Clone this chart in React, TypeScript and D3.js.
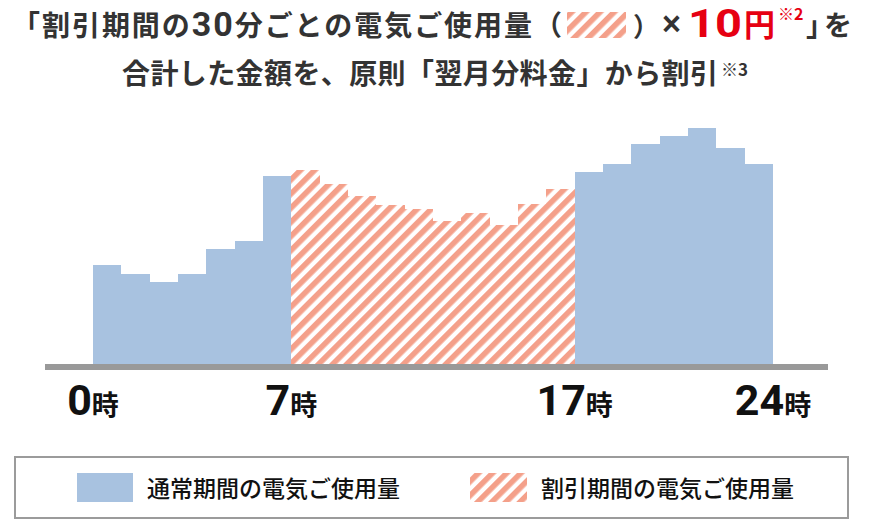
import * as d3 from "d3"

// hourly usage (Wh)
const hours = [0, 1, 2, 3, 4, 5, 6, 7, 8, 9, 10, 11, 12, 13, 14, 15, 16, 17, 18, 19, 20, 21, 22, 23]
const usage = [247, 226, 206, 226, 287, 308, 470, 485, 449, 420, 398, 388, 358, 378, 348, 399, 438, 479, 499, 549, 570, 590, 539, 499]
const discountFrom = 7
const discountTo = 17
const tickHours = [0, 7, 17, 24]
const legendLabels = ["通常期間の電気ご使用量", "割引期間の電気ご使用量"]

const BLUE = "#a8c2e0"
const SALMON = "#f4a08a"
const JP = "'Noto Sans CJK JP', 'Noto Sans', sans-serif"
const NUM = "Roboto, 'Liberation Sans', sans-serif"

const App = () => {
  const x = d3.scaleLinear().domain([0, 24]).range([93, 773])
  const y = d3.scaleLinear().domain([0, 1000]).range([364, -36])

  const isDiscount = (h: number) => h >= discountFrom && h < discountTo

  return (
    <svg
      width={872}
      height={520}
      style={{ position: "absolute", left: 0, top: 0, background: "#fff" }}
    >
      <defs>
        <pattern
          id="hatch"
          patternUnits="userSpaceOnUse"
          width={10}
          height={10}
          patternTransform="rotate(45)"
        >
          <rect width={10} height={10} fill="#fff" />
          <rect width={5.6} height={10} fill={SALMON} />
        </pattern>
      </defs>

      {/* title line 1 */}
      <g fontFamily={JP} fontWeight={700} fill="#333">
        <text x={12} y={36} fontSize={28} textLength={550}>
          「割引期間の
          <tspan fontFamily={NUM} fontSize={34}>30</tspan>
          分ごとの電気ご使用量（
        </text>
        <rect x={567} y={12} width={59} height={26} fill="url(#hatch)" />
        <text x={633} y={36} fontSize={26}>）</text>
        <text x={662} y={36} fontSize={36} fontFamily={NUM} fontWeight={500}>×</text>
        <text
          x={688}
          y={37}
          fontSize={39}
          fontFamily={NUM}
          fill="#e60012"
          textLength={54}
          lengthAdjust="spacingAndGlyphs"
        >
          10
        </text>
        <text x={744} y={36} fontSize={31} fill="#e60012">円</text>
        <text x={778} y={20} fontSize={16} fill="#e60012">※2</text>
        <text x={806} y={36} fontSize={28} textLength={46}>」を</text>

        {/* title line 2 */}
        <text x={122} y={84} fontSize={28} textLength={596}>
          合計した金額を、原則「翌月分料金」から割引
        </text>
        <text x={721} y={76} fontSize={17}>※3</text>
      </g>

      {/* bars */}
      <g>
        {hours.map((h, i) => (
          <rect
            key={h}
            x={x(h)}
            y={y(usage[i])}
            width={x(h + 1) - x(h)}
            height={y(0) - y(usage[i])}
            fill={isDiscount(h) ? "url(#hatch)" : BLUE}
            shapeRendering="crispEdges"
          />
        ))}
      </g>

      {/* baseline */}
      <rect x={45} y={y(0)} width={783} height={6} fill="#999" />

      {/* hour labels */}
      <g fill="#111" fontWeight={700}>
        {tickHours.map(h => (
          <text key={h} x={x(h)} y={415} textAnchor="middle">
            <tspan fontFamily={NUM} fontSize={43}>{h}</tspan>
            <tspan fontFamily={JP} fontSize={27}>時</tspan>
          </text>
        ))}
      </g>

      {/* legend */}
      <rect x={15} y={457} width={833} height={61} fill="#fff" stroke="#9b9b9b" strokeWidth={2} />
      <rect x={77} y={473} width={56} height={29} fill={BLUE} />
      <text x={147} y={497} fontFamily={JP} fontSize={23} fontWeight={500} fill="#111">{legendLabels[0]}</text>
      <rect x={470} y={473} width={57} height={29} fill="url(#hatch)" />
      <text x={541} y={497} fontFamily={JP} fontSize={23} fontWeight={500} fill="#111">{legendLabels[1]}</text>
    </svg>
  )
}

export default App
